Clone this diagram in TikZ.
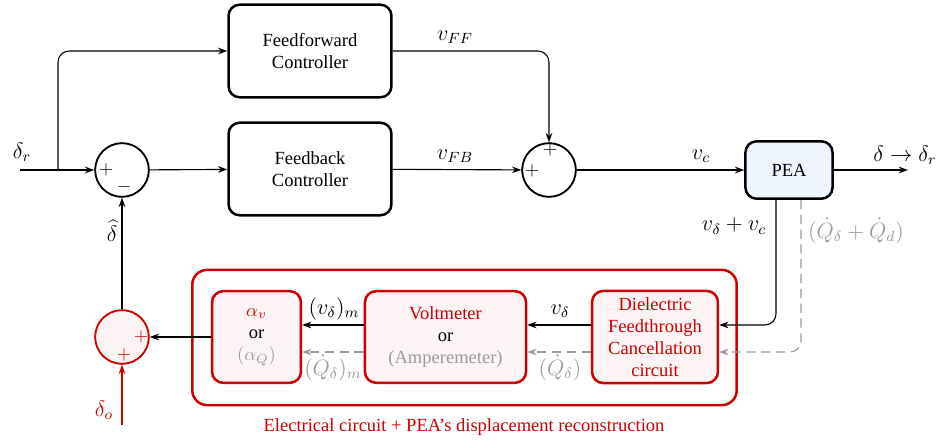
\documentclass[tikz,border=0pt]{standalone}
\usepackage{fontspec}
\setmainfont{Liberation Serif}
\usetikzlibrary{arrows.meta,calc}
\definecolor{dred}{HTML}{CC0000}
\definecolor{pinkf}{HTML}{FCF4F4}
\definecolor{bluef}{HTML}{EEF5FC}
\definecolor{gr}{HTML}{9A9A9A}
\begin{document}
\begin{tikzpicture}[x=0.54pt,y=-0.54pt,
  arr/.style={-{Stealth[length=5pt,width=3.6pt]}, line width=0.6pt},
  garr/.style={arr, gr, dashed, dash pattern=on 5pt off 3pt},
  blk/.style={draw, line width=1.35pt, rounded corners=6pt, align=center, minimum width=88pt, minimum height=50pt},
  rblk/.style={draw=dred, fill=pinkf, line width=1.35pt, rounded corners=6pt, align=center, minimum height=49.5pt, text=dred},
  sumc/.style={draw, circle, line width=1pt, minimum size=29pt, inner sep=0pt},
  lbl/.style={inner sep=1pt, font=\large},
  sgn/.style={inner sep=0pt}
]
\useasboundingbox (0,0) rectangle (940,445);

% nodes
\node[blk] (ff) at (310,51) {Feedforward\\Controller};
\node[blk] (fb) at (310,169) {Feedback\\Controller};
\node[sumc] (s1) at (122,170) {};
\node[sumc] (s2) at (549,170) {};
\node[blk, fill=bluef, minimum width=47pt, minimum height=31pt] (pea) at (789,170) {PEA};
\node[draw=dred, line width=1.35pt, rounded corners=8pt, minimum width=294pt, minimum height=73pt] (outer) at (464.5,337.5) {};
\node[rblk, minimum width=68pt] (diel) at (655,337) {Dielectric\\Feedthrough\\Cancellation\\circuit};
\node[rblk, minimum width=87pt] (volt) at (445.5,337) {Voltmeter\\\textcolor{black}{or}\\\textcolor{gr}{(Amperemeter)}};
\node[rblk, minimum width=48pt] (alpha) at (256.5,337) {$\alpha_v$\\\textcolor{black}{or}\\\textcolor{gr}{$(\alpha_Q)$}};
\node[sumc, draw=dred, fill=pinkf] (s3) at (122,337) {};

% signs
\node[sgn] (p1) at (106,170) {$+$};
\node[sgn] (m1) at (124,187) {$-$};
\node[sgn] (p2) at (532,171) {$+$};
\node[sgn] (p3) at (550,150) {$+$};
\node[sgn, text=dred] (p4) at (141,337) {$+$};
\node[sgn, text=dred] (p5) at (124,355) {$+$};

% coordinates
\coordinate (in) at (20,170);
\coordinate (br) at (58,170);
\coordinate (out) at (908,170);
\coordinate (do) at (122,425);

% connectors
\draw[arr] (in) -- (s1);
\draw[arr, rounded corners=6pt] (br) |- (ff.west);
\draw[arr] (s1) -- (fb);
\draw[arr] (fb) -- (s2);
\draw[arr, rounded corners=6pt] (ff.east) -| (s2.north);
\draw[arr] (s2) -- (pea);
\draw[arr] (pea) -- (out);
\draw[arr, rounded corners=6pt] ([xshift=-7pt]pea.south) |- ([yshift=6.5pt]diel.east);
\draw[garr, rounded corners=6pt] ([xshift=6.5pt]pea.south) |- ([yshift=-8.1pt]diel.east);
\draw[arr] ([yshift=6.5pt]diel.west) -- ([yshift=6.5pt]volt.east);
\draw[garr] ([yshift=-8.1pt]diel.west) -- ([yshift=-8.1pt]volt.east);
\draw[arr] ([yshift=6.5pt]volt.west) -- ([yshift=6.5pt]alpha.east);
\draw[garr] ([yshift=-8.1pt]volt.west) -- ([yshift=-8.1pt]alpha.east);
\draw[arr] (alpha.west) -- (s3.east);
\draw[arr] (s3) -- (s1);
\draw[arr, dred] (do) -- (s3);

% labels
\node[lbl] (ldr) at (22,152) {$\delta_r$};
\node[lbl] (lff) at (455,37) {$v_{FF}$};
\node[lbl] (lfb) at (455,156) {$v_{FB}$};
\node[lbl] (lvc) at (701,156) {$v_c$};
\node[lbl] (lout) at (905,155) {$\delta\rightarrow\delta_r$};
\node[lbl] (lvv) at (734,226) {$v_\delta+v_c$};
\node[lbl, text=gr] (lqq) at (856,231) {$(\dot Q_\delta+\dot Q_d)$};
\node[lbl] (lvd) at (560,311) {$v_\delta$};
\node[lbl, text=gr] (lqd) at (560,368) {$(\dot Q_\delta)$};
\node[lbl] (lvm) at (334,309) {$(v_\delta)_m$};
\node[lbl, text=gr] (lqm) at (333,368) {$(\dot Q_\delta)_m$};
\node[lbl] (lhat) at (112,231) {$\widehat{\delta}$};
\node[lbl, text=dred] (ldo) at (104,410) {$\delta_o$};
\node[inner sep=1pt, text=dred] (cap) at (464,427) {Electrical circuit + PEA's displacement reconstruction};
\end{tikzpicture}
\end{document}
